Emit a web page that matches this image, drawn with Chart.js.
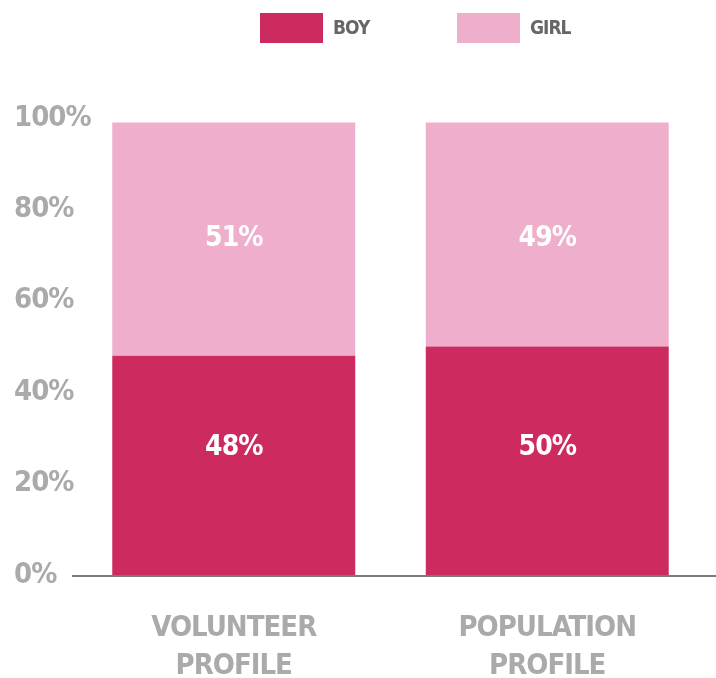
<!DOCTYPE html>
<html>
<head>
<meta charset="utf-8">
<script src="https://cdn.jsdelivr.net/npm/chart.js@4"></script>
<style>
  html, body { margin: 0; padding: 0; background: #fff; }
  #wrap { width: 716px; height: 678px; position: relative; }
</style>
</head>
<body>
<div id="wrap"><canvas id="chart"></canvas></div>
<script>
const categories = [["VOLUNTEER", "PROFILE"], ["POPULATION", "PROFILE"]];
const boyValues = [48, 50];
const girlValues = [51, 49];
const yTicks = [0, 20, 40, 60, 80, 100];
// the original puts the % labels at the same height in both bars
const labelAnchors = [27.8, 73.5];

const FONT = "'DejaVu Sans Condensed', 'Liberation Sans Narrow', sans-serif";

const tightText = {
  id: "tightText",
  beforeDraw(chart) { chart.ctx.letterSpacing = "-1px"; },
  beforeLayout(chart) { chart.ctx.letterSpacing = "-1px"; }
};

// white % labels inside the segments
const segmentLabels = {
  id: "segmentLabels",
  afterDatasetsDraw(chart) {
    const ctx = chart.ctx;
    const y = chart.scales.y;
    ctx.save();
    ctx.fillStyle = "#fff";
    ctx.font = "bold 28px " + FONT;
    ctx.textAlign = "center";
    ctx.textBaseline = "middle";
    chart.data.datasets.forEach((ds, i) => {
      chart.getDatasetMeta(i).data.forEach((bar, j) => {
        ctx.fillText(ds.data[j] + "%", bar.x, y.getPixelForValue(labelAnchors[i]));
      });
    });
    ctx.restore();
  }
};

// baseline runs a bit past the plot area
const baseline = {
  id: "baseline",
  afterDatasetsDraw(chart) {
    const ctx = chart.ctx;
    const y = chart.scales.y.getPixelForValue(0);
    ctx.save();
    ctx.strokeStyle = "#7a7a7a";
    ctx.lineWidth = 2;
    ctx.beginPath();
    ctx.moveTo(72, y + 1);
    ctx.lineTo(716, y + 1);
    ctx.stroke();
    ctx.restore();
  }
};

// legend drawn by hand so the spacing matches
const topLegend = {
  id: "topLegend",
  afterDraw(chart) {
    const ctx = chart.ctx;
    const xs = [260, 457];
    ctx.save();
    ctx.font = "bold 19px " + FONT;
    ctx.textBaseline = "middle";
    ctx.textAlign = "left";
    chart.data.datasets.forEach((ds, i) => {
      ctx.fillStyle = ds.backgroundColor;
      ctx.fillRect(xs[i], 13, 63, 30);
      ctx.fillStyle = "#666";
      ctx.fillText(ds.label, xs[i] + 73, 29);
    });
    ctx.restore();
  }
};

new Chart(document.getElementById("chart"), {
  type: "bar",
  data: {
    labels: categories,
    datasets: [
      { label: "BOY", data: boyValues, backgroundColor: "#cd2b5f" },
      { label: "GIRL", data: girlValues, backgroundColor: "#efaecb" }
    ]
  },
  options: {
    responsive: true,
    maintainAspectRatio: false,
    animation: false,
    layout: { padding: { left: 14, right: 12, top: 118, bottom: 0 } },
    plugins: {
      legend: { display: false },
      tooltip: { enabled: false }
    },
    datasets: {
      bar: { barPercentage: 0.775, categoryPercentage: 1 }
    },
    scales: {
      x: {
        stacked: true,
        grid: { display: false, drawTicks: false },
        border: { display: false },
        afterFit(axis) { axis.height = 103; },
        ticks: {
          color: "#aaa",
          padding: 34,
          font: { family: FONT, size: 29, weight: "bold", lineHeight: 1.32 }
        }
      },
      y: {
        stacked: true,
        min: 0,
        max: 100,
        afterBuildTicks(axis) { axis.ticks = yTicks.map(v => ({ value: v })); },
        afterFit(axis) { axis.width = 63; },
        grid: { display: false, drawTicks: false },
        border: { display: false },
        ticks: {
          color: "#aaa",
          mirror: true,
          padding: -63,
          font: { family: FONT, size: 29, weight: "bold" },
          callback: v => v + "%"
        }
      }
    }
  },
  plugins: [tightText, segmentLabels, baseline, topLegend]
});
</script>
</body>
</html>
